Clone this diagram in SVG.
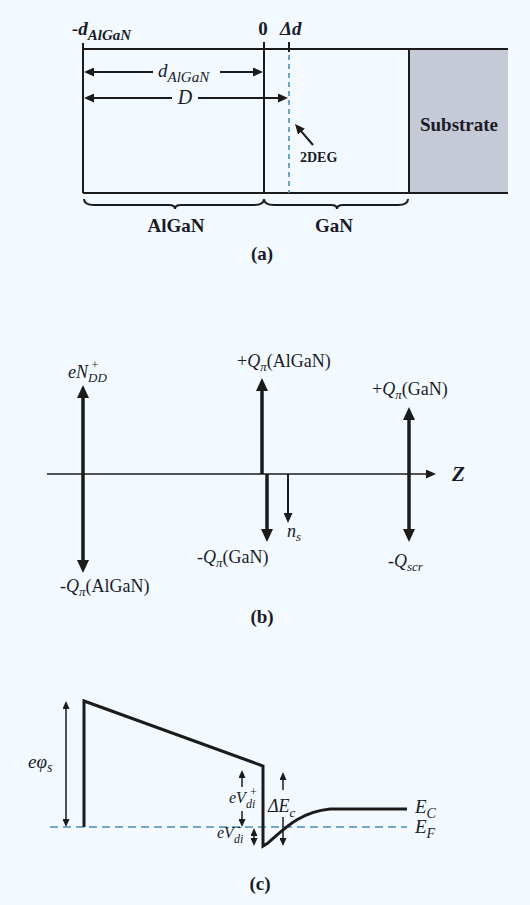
<svg xmlns="http://www.w3.org/2000/svg" width="530" height="905" viewBox="0 0 530 905">
<style>
text{font-family:"Liberation Serif","Times New Roman",serif;fill:#1b1b28}
.b{font-weight:bold}
.i{font-style:italic}
.bi{font-weight:bold;font-style:italic}
.ln{stroke:#1b1b1b;fill:none}
.dash{stroke:#4a8fb2;fill:none;stroke-width:1.6}
</style>
<defs>
<marker id="ab" markerUnits="userSpaceOnUse" markerWidth="13" markerHeight="12" refX="3" refY="6" orient="auto-start-reverse"><path d="M0,0 L13,6 L0,12 Z" fill="#1b1b1b"/></marker>
<marker id="am" markerUnits="userSpaceOnUse" markerWidth="10" markerHeight="9" refX="2" refY="4.5" orient="auto-start-reverse"><path d="M0,0 L10,4.5 L0,9 Z" fill="#1b1b1b"/></marker>
<marker id="as" markerUnits="userSpaceOnUse" markerWidth="8" markerHeight="7" refX="2" refY="3.5" orient="auto-start-reverse"><path d="M0,0 L8,3.5 L0,7 Z" fill="#1b1b1b"/></marker>
</defs>
<rect width="530" height="905" fill="#f2faff"/>

<!-- Panel (a) -->
<g id="layers">
<rect x="409" y="49" width="99" height="144" fill="#c6cad7"/>
<path class="ln" stroke-width="2" d="M83,43 V193 M83,49 H508 M83,193 H508 M264,42 V193 M409,49 V193"/>
<path class="ln" stroke-width="2" d="M289,42 V52"/>
<path class="dash" stroke-dasharray="5,4" d="M289,55 V193"/>
</g>
<g id="labels-a">
<text x="72" y="35" class="bi" font-size="19">-d<tspan font-size="15" dy="5">AlGaN</tspan></text>
<text x="263" y="35" class="b" font-size="19" text-anchor="middle">0</text>
<text x="280" y="35" class="bi" font-size="19">Δd</text>
<text x="158" y="77" class="i" font-size="19">d<tspan font-size="15" dy="5">AlGaN</tspan></text>
<text x="185" y="104" class="i" font-size="20" text-anchor="middle">D</text>
<text x="459" y="131" class="b" font-size="19" text-anchor="middle">Substrate</text>
<text x="300" y="162" class="b" font-size="14">2DEG</text>
<text x="176" y="232" class="b" font-size="19" text-anchor="middle">AlGaN</text>
<text x="334" y="232" class="b" font-size="19" text-anchor="middle">GaN</text>
<text x="262" y="260" class="b" font-size="19" text-anchor="middle">(a)</text>
</g>
<g id="connectors">
<path class="ln" stroke-width="2" marker-end="url(#am)" d="M153,72 H92"/>
<path class="ln" stroke-width="2" marker-end="url(#am)" d="M220,72 H255"/>
<path class="ln" stroke-width="2" marker-end="url(#am)" d="M172,98 H92"/>
<path class="ln" stroke-width="2" marker-end="url(#am)" d="M198,98 H280"/>
<path class="ln" stroke-width="2" marker-end="url(#am)" d="M313,145 L300.2,130.1"/>
<path class="ln" stroke-width="2" d="M84,199 Q84,205 94,205 L169,205 Q175,205 175,209 Q175,205 181,205 L254,205 Q264,205 264,199"/>
<path class="ln" stroke-width="2" d="M264,199 Q264,205 274,205 L331,205 Q337,205 337,209 Q337,205 343,205 L398,205 Q408,205 408,199"/>
<path class="ln" stroke-width="1.6" marker-end="url(#am)" d="M47,474 H428"/>
<path class="ln" stroke-width="3.5" marker-start="url(#ab)" marker-end="url(#ab)" d="M83,395 V563"/>
<path class="ln" stroke-width="3.5" marker-end="url(#ab)" d="M262,474 V388"/>
<path class="ln" stroke-width="3.5" marker-end="url(#ab)" d="M267,474 V532"/>
<path class="ln" stroke-width="2" marker-end="url(#am)" d="M288,474 V515"/>
<path class="ln" stroke-width="3.5" marker-start="url(#ab)" marker-end="url(#ab)" d="M409,417 V532"/>
<path class="ln" stroke-width="1.5" marker-start="url(#as)" marker-end="url(#as)" d="M66,707 V821"/>
<path class="ln" stroke-width="1.5" marker-end="url(#as)" d="M242,787 V776"/>
<path class="ln" stroke-width="1.5" marker-end="url(#as)" d="M242,811 V821"/>
<path class="ln" stroke-width="1.5" marker-start="url(#as)" marker-end="url(#as)" d="M254,834 V840"/>
<path class="ln" stroke-width="1.5" marker-end="url(#as)" d="M283,790 V778"/>
<path class="ln" stroke-width="1.5" marker-end="url(#as)" d="M283,817 V840"/>
</g>
<g id="labels-b">
<text x="68" y="378" class="i" font-size="18">eN<tspan font-size="13" dy="4">DD</tspan><tspan font-size="12" dx="-16" dy="-13">+</tspan></text>
<text x="237" y="367" font-size="18">+<tspan class="i">Q</tspan><tspan class="i" font-size="13" dy="4">π</tspan><tspan dy="-4">(AlGaN)</tspan></text>
<text x="60" y="592" font-size="18">-<tspan class="i">Q</tspan><tspan class="i" font-size="13" dy="4">π</tspan><tspan dy="-4">(AlGaN)</tspan></text>
<text x="197" y="563" font-size="18">-<tspan class="i">Q</tspan><tspan class="i" font-size="13" dy="4">π</tspan><tspan dy="-4">(GaN)</tspan></text>
<text x="372" y="395" font-size="18">+<tspan class="i">Q</tspan><tspan class="i" font-size="13" dy="4">π</tspan><tspan dy="-4">(GaN)</tspan></text>
<text x="287" y="537" class="i" font-size="18">n<tspan font-size="13" dy="4">s</tspan></text>
<text x="388" y="567" font-size="18">-<tspan class="i">Q</tspan><tspan class="i" font-size="13" dy="4">scr</tspan></text>
<text x="452" y="481" class="bi" font-size="21">Z</text>
<text x="262" y="623" class="b" font-size="19" text-anchor="middle">(b)</text>
</g>
<g id="band">
<path class="dash" stroke-dasharray="8,5" d="M50,827 H407"/>
<path class="ln" stroke-width="3" d="M84,827 L84,701 L263,766 L263,846 L268,843 C285,828 300,812 330,809 L407,809"/>
</g>
<g id="labels-c">
<text x="28" y="768" class="i" font-size="19">eφ<tspan font-size="14" dy="4">s</tspan></text>
<text x="229" y="803" class="i" font-size="16">eV<tspan font-size="12" dy="5">di</tspan><tspan font-size="12" dx="-6" dy="-12">+</tspan></text>
<text x="217" y="838" class="i" font-size="16">eV<tspan font-size="12" dy="5">di</tspan><tspan font-size="12" dx="-6" dy="-12">-</tspan></text>
<text x="268" y="812" class="i" font-size="18">ΔE<tspan font-size="13" dy="5">c</tspan></text>
<text x="415" y="813" class="i" font-size="19">E<tspan font-size="14" dy="5">C</tspan></text>
<text x="415" y="833" class="i" font-size="19">E<tspan font-size="14" dy="5">F</tspan></text>
<text x="260" y="890" class="b" font-size="19" text-anchor="middle">(c)</text>
</g>
</svg>
